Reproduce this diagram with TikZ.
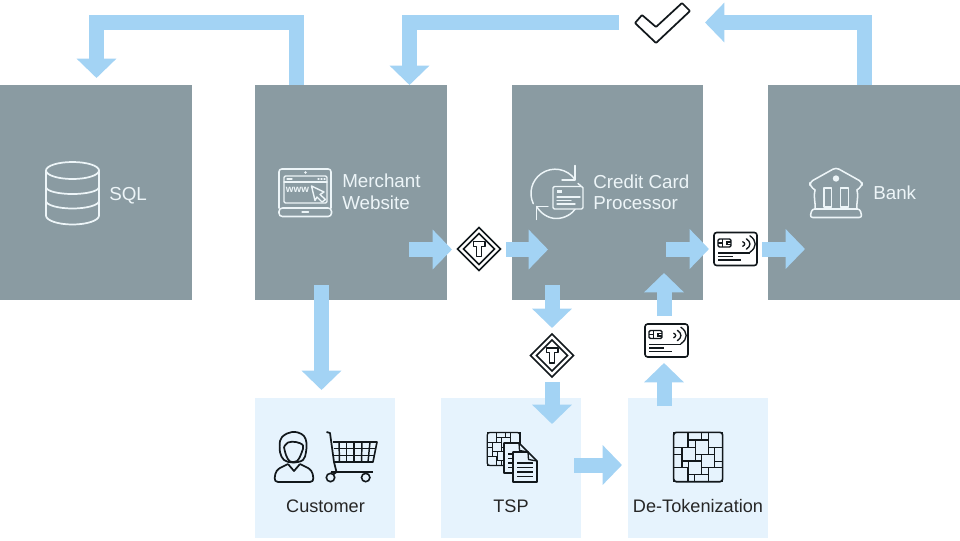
\documentclass[tikz,border=0pt]{standalone}
\usepackage{fontspec}
\setmainfont{Liberation Sans}
\usetikzlibrary{arrows.meta}
\definecolor{slatebox}{HTML}{8A9BA2}
\definecolor{palebox}{HTML}{E6F3FD}
\definecolor{flowblue}{HTML}{A3D3F4}
\definecolor{iconink}{HTML}{12181C}
\definecolor{boxtext}{HTML}{EDF5F8}
\tikzset{
  x=0.75pt,y=-0.75pt,
  bigbox/.style={fill=slatebox,draw=none,inner sep=0pt,anchor=north west,minimum width=144pt,minimum height=161.25pt},
  lightbox/.style={fill=palebox,draw=none,inner sep=0pt,anchor=north west,minimum width=105pt,minimum height=105pt},
  flow/.style={draw=flowblue,line width=11.25pt,miter limit=10,-{Triangle[length=14.5pt,width=29pt,fill=flowblue]}},
  whitetext/.style={text=boxtext,font=\fontsize{14.1}{17}\selectfont,inner sep=0pt,anchor=base west},
  darktext/.style={text=black!85,font=\fontsize{13.6}{16}\selectfont,inner sep=0pt,anchor=base},
  whiteicon/.style={draw=boxtext,line width=1.3pt,line join=round,line cap=round},
  thinwhite/.style={draw=boxtext,line width=1pt,line join=round,line cap=round},
  darkicon/.style={draw=iconink,line width=1.3pt,line join=round},
  tokmark/.pic={
    \draw[iconink,line width=1.15pt,fill=white] (-21.5,0)--(0,-21.5)--(21.5,0)--(0,21.5)--cycle;
    \draw[iconink,line width=1.15pt] (-15.5,0)--(0,-15.5)--(15.5,0)--(0,15.5)--cycle;
    \draw[iconink,line width=1.05pt,line join=round,fill=white] (-5.8,-7.5)--(5.8,-7.5)--(5.8,-2.8)--(2.4,-2.8)--(2.4,7.5)--(-2.4,7.5)--(-2.4,-2.8)--(-5.8,-2.8)--cycle;
  },
  payment/.pic={
    \draw[iconink,line width=1.2pt,fill=white,rounded corners=2pt] (-21.5,-16.5) rectangle (21.5,16.5);
    \draw[iconink,line width=1pt,rounded corners=1pt] (-17.5,-10) rectangle (-4.5,-2);
    \draw[iconink,line width=0.9pt] (-13,-10)--(-13,-2) (-17.5,-6)--(-13,-6) (-4.5,-7)--(-8.5,-7)--(-8.5,-4.5)--(-4.5,-4.5);
    \foreach \rr in {3,7,11}{\draw[iconink,line width=1pt,line cap=round] (4.5+\rr*0.9,-5-\rr*0.75) .. controls (5.5+\rr*1.45,-5-\rr*0.3) and (5.5+\rr*1.45,-5+\rr*0.3) .. (4.5+\rr*0.9,-5+\rr*0.75);}
    \draw[iconink,line width=0.95pt] (-17.5,4)--(14,4) (-17.5,7.5)--(-3,7.5) (-17.5,11)--(5.5,11);
  },
  tilegrid/.pic={
    \foreach \xa/\ya/\xb/\yb in {25/22/68/68,68/22/108/45,108/22/130/45,130/22/172/68,68/45/90/68,25/68/50/88,25/88/50/128,50/68/90/108,90/45/130/88,130/68/148/88,148/68/172/110,148/110/172/128,90/88/108/108,108/88/148/128,50/108/70/128,70/108/108/148,25/128/68/170,68/148/88/170,88/148/130/170,108/128/130/148,130/128/172/170}
    {\draw[iconink,line width=\tilelw] (\xa/3-32.7,\ya/3-32) rectangle (\xb/3-32.7,\yb/3-32);}
    \draw[iconink,line width=1.2*\tilelw,rounded corners=2pt] (25/3-32.7,22/3-32) rectangle (172/3-32.7,170/3-32);
  },
  docpage/.pic={
    \draw[iconink,line width=1.2pt,fill=palebox,line join=round] (0,0)--(15,0)--(24,9)--(24,30)--(0,30)--cycle;
    \draw[iconink,line width=1pt,line join=round] (15,0)--(15.5,7.5)--(24,9);
    \draw[iconink,line width=0.9pt] (4,11)--(20,11) (4,15.5)--(20,15.5) (4,20)--(20,20) (4,24.5)--(20,24.5);
  }
}
\newlength{\tilelw}
\begin{document}
\begin{tikzpicture}
\useasboundingbox (0,0) rectangle (960,540);
% boxes
\node[bigbox] (sql) at (0,85) {};
\node[bigbox] (merchant) at (255,85) {};
\node[bigbox,minimum width=143.25pt] (ccp) at (512,85) {};
\node[bigbox] (bank) at (768,85) {};
\node[lightbox] (customer) at (255,398) {};
\node[lightbox] (tsp) at (441,398) {};
\node[lightbox] (detok) at (628,398) {};
% symbol anchors
\coordinate (tokA) at (479,249);
\coordinate (tokB) at (552,355.5);
\coordinate (cardA) at (735.5,249);
\coordinate (cardB) at (666.5,340.5);
% arrows
\coordinate (a1s) at (296.5,85); \coordinate (a1c) at (296.5,22.5); \coordinate (a1d) at (96.5,22.5); \coordinate (a1e) at (96.5,78);
\coordinate (a2s) at (619,22.5); \coordinate (a2c) at (409.5,22.5); \coordinate (a2e) at (409.5,85);
\coordinate (a3s) at (864.5,85); \coordinate (a3c) at (864.5,22.5); \coordinate (a3e) at (705,22.5);
\draw[flow] (a1s)--(a1c)--(a1d)--(a1e);
\draw[flow] (a2s)--(a2c)--(a2e);
\draw[flow] (a3s)--(a3c)--(a3e);
\coordinate (b1s) at (409,249.5); \coordinate (b1e) at (452,249.5);
\coordinate (b2s) at (506,249.5); \coordinate (b2e) at (548,249.5);
\coordinate (b3s) at (666,249); \coordinate (b3e) at (709,249);
\coordinate (b4s) at (762,249); \coordinate (b4e) at (805,249);
\coordinate (c1s) at (321.5,285); \coordinate (c1e) at (321.5,390);
\coordinate (c2s) at (552,285); \coordinate (c2e) at (552,328);
\coordinate (c3s) at (552,382); \coordinate (c3e) at (552,424);
\coordinate (d1s) at (574,465); \coordinate (d1e) at (622,465);
\coordinate (e1s) at (664,406); \coordinate (e1e) at (664,363);
\coordinate (e2s) at (664,316); \coordinate (e2e) at (664,273);
\foreach \p/\q in {b1s/b1e,b2s/b2e,b3s/b3e,b4s/b4e,c1s/c1e,c2s/c2e,c3s/c3e,d1s/d1e,e1s/e1e,e2s/e2e}
  \draw[flow] (\p)--(\q);
% tokens and cards
\pic at (tokA) {tokmark};
\pic at (tokB) {tokmark};
\pic at (cardA) {payment};
\pic at (cardB) {payment};
% check mark
\draw[iconink,line width=1.3pt,fill=white,rounded corners=0.6pt,line join=round] (635,23)--(642,15)--(656,27)--(682,3)--(690,11)--(656,43)--cycle;
% SQL icon
\begin{scope}[whiteicon]
\draw (72.5,170.5) ellipse [x radius=26.5,y radius=8.5];
\draw (46,170.5)--(46,215.5) .. controls (46,220.5) and (58,224.5) .. (72.5,224.5) .. controls (87,224.5) and (99,220.5) .. (99,215.5)--(99,170.5);
\draw (46,187) .. controls (46,191) and (58,194) .. (72.5,194) .. controls (87,194) and (99,191) .. (99,187);
\draw (46,201) .. controls (46,205) and (58,208.5) .. (72.5,208.5) .. controls (87,208.5) and (99,205) .. (99,201);
\end{scope}
% laptop icon
\begin{scope}[thinwhite]
\draw[rounded corners=2pt,line width=1.15pt] (279,208)--(279,169)--(331,169)--(331,208);
\draw[rounded corners=2.5pt,line width=1.15pt] (279,208) rectangle (331.5,216.5);
\draw[rounded corners=1pt] (284,176) rectangle (327,203);
\draw (284,182)--(327,182);
\draw (287,179)--(292,179) (318,179)--(319,179) (321,179)--(322,179) (324,179)--(325,179);
\fill[boxtext] (305.5,172.5) circle (1.4);
\draw (302,212)--(308.5,212);
\draw[fill=slatebox,line width=1.05pt] (311.5,186)--(324,192)--(320,194.5)--(325.5,199.5)--(322,202)--(317,197)--(315,200.5)--cycle;
\end{scope}
\node[inner sep=0pt,text=boxtext,font=\bfseries\fontsize{7.4}{8}\selectfont] (www) at (297.5,190) {www};
% CCP icon
\begin{scope}[whiteicon,line width=1.1pt]
\draw (575,179.5) arc[start angle=-35,end angle=-205,radius=24.2];
\draw (575,165.5)--(575,180)--(562,180);
\draw (536.7,219.5)--(536.7,206.5)--(548,206.5);
\draw (536.7,206.5) .. controls (541,214) and (549,218.5) .. (556,218.5) .. controls (565,218.5) and (572,214) .. (576,208);
\draw (578,183.5)--(581,186);
\draw[fill=slatebox,rounded corners=1pt] (553,186.5) rectangle (583,209);
\end{scope}
\begin{scope}[thinwhite]
\fill[boxtext] (557,190) rectangle (562,193);
\draw (557,197)--(580,197) (557,200.5)--(571,200.5) (557,204)--(575,204);
\end{scope}
% bank icon
\begin{scope}[whiteicon,line width=1.15pt]
\draw[rounded corners=2.5pt] (815,190)--(810,186)--(810,182)--(836,167.5)--(862,182)--(862,186)--(857,190);
\draw (815,190) .. controls (813,196) and (816,204) .. (815,209);
\draw (857,190) .. controls (859,196) and (856,204) .. (857,209);
\draw[rounded corners=2pt] (812,209)--(860,209)--(862,217.5)--(810,217.5)--cycle;
\draw (824,188)--(824,207)--(831.5,207)--(831.5,188)--cycle;
\draw (840.5,188)--(840.5,207)--(848.5,207)--(848.5,188)--cycle;
\fill[boxtext] (836,178.5) circle (3.2);
\end{scope}
% white labels
\node[whitetext] (sqlt) at (109,200.5) {SQL};
\node[whitetext] (mtop) at (342,187.5) {Merchant};
\node[whitetext] (mbot) at (342,209) {Website};
\node[whitetext] (ctop) at (593,188) {Credit Card};
\node[whitetext] (cbot) at (593,209.5) {Processor};
\node[whitetext] (bankt) at (873,199.5) {Bank};
% person
\begin{scope}[darkicon]
\draw plot[smooth cycle,tension=0.6] coordinates {(280,441) (282,437) (287,433.5) (292,432) (298,432.5) (304,436) (306.5,443) (306,452) (303,460) (293,462.5) (284,460) (280,452)};
\draw plot[smooth,tension=0.6] coordinates {(284,447) (288,442.5) (296,442) (303,445.5) (301.5,453) (297,461) (290,461.5) (286,455) (284,447)};
\draw[rounded corners=3pt] (288,464)--(276,470)--(274,482)--(314,482)--(312,470)--(300,464);
\draw (288,464)--(294,471)--(300,464);
\end{scope}
% cart
\begin{scope}[iconink]
\draw[line width=1.3pt,line join=round] (326.5,432)--(330,433)--(334,462)--(336.5,472)--(331,476);
\draw[line width=1.3pt] (331,472)--(373,472);
\draw[line width=1.2pt,line join=round] (333,442)--(377,442)--(373,462)--(334,462);
\foreach \xg/\xh in {339/339.5,346.5/346.5,354/354,362/361.5,370/368}
  \draw[line width=1.1pt] (\xg,442)--(\xh,462);
\draw[line width=1.1pt] (333.5,448.5)--(375.5,448.5) (334,455.5)--(374.5,455.5);
\draw[line width=1.2pt,fill=palebox] (330.5,477.5) circle (4.2) (365.7,477.5) circle (4.2);
\end{scope}
% tile icons
\setlength{\tilelw}{1.05pt}
\pic at (698,457) {tilegrid};
\setlength{\tilelw}{0.8pt}
\pic[scale=0.67] at (503.5,449) {tilegrid};
\pic at (504,443) {docpage};
\pic at (513,452) {docpage};
% dark labels
\node[darktext] (custt) at (325.5,512) {Customer};
\node[darktext] (tspt) at (511,512) {TSP};
\node[darktext] (dett) at (698,512) {De-Tokenization};
\end{tikzpicture}
\end{document}
